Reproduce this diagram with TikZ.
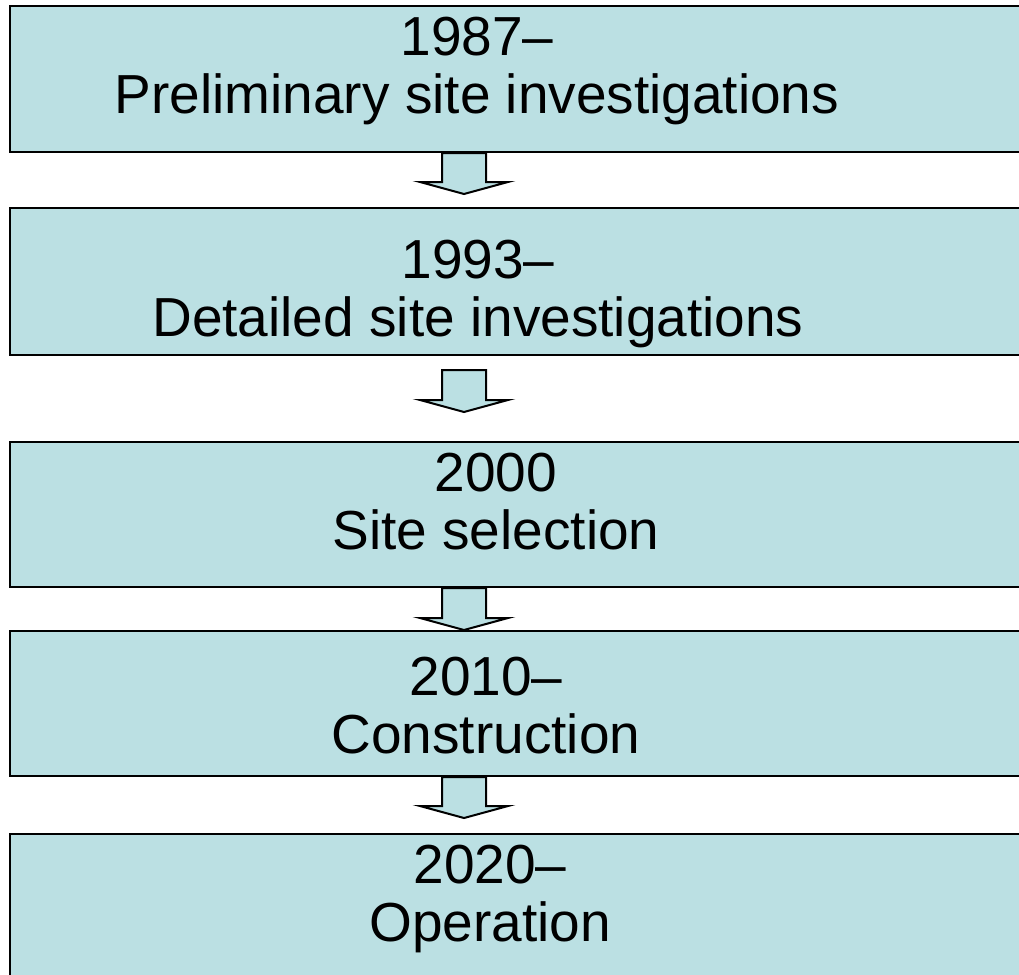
\documentclass[tikz,border=0pt]{standalone}
\usepackage{fontspec}
\setmainfont{Liberation Sans}
\usepackage{tikz}
\usetikzlibrary{calc}
\definecolor{boxblue}{RGB}{187,224,227}

\tikzset{
  stage/.style={draw=black,line width=2pt,fill=boxblue,rectangle,minimum width=1030pt,inner sep=0pt},
  stagetext/.style={anchor=north,inner sep=0pt,align=center,font=\fontsize{55}{58}\selectfont},
  blockarrow/.style={draw=black,line width=2pt,fill=boxblue,line join=miter,
    to path={let \p1=(\tikztostart),\p2=(\tikztotarget) in
      (\x1-22pt,\y1)--(\x1-22pt,\y2+12pt)--(\x1-44pt,\y2+12pt)--(\x1,\y2)
      --(\x1+44pt,\y2+12pt)--(\x1+22pt,\y2+12pt)--(\x1+22pt,\y1)--cycle}}
}

\begin{document}
\begin{tikzpicture}[x=1pt,y=-1pt]
\useasboundingbox (0,0) rectangle (1019,974);
\clip (0,0) rectangle (1019,974);
% stages
\node[stage,minimum height=146pt] (b1) at (525,79) {};
\node[stage,minimum height=147pt] (b2) at (525,281.5) {};
\node[stage,minimum height=145pt] (b3) at (525,514.5) {};
\node[stage,minimum height=145pt] (b4) at (525,703.5) {};
\node[stage,minimum height=146pt] (b5) at (525,907) {};
\node[stagetext] (t1) at (477,17) {1987–\\Preliminary site investigations};
\node[stagetext] (t2) at (478,240) {1993–\\Detailed site investigations};
\node[stagetext] (t3) at (496,453) {2000\\Site selection};
\node[stagetext] (t4) at (486,657) {2010–\\Construction};
\node[stagetext] (t5) at (490,845) {2020–\\Operation};
% arrows
\coordinate (ax) at (464,0);
\draw[blockarrow] (b1.south -| ax) to ($(b2.north -| ax)+(0,-13)$);
\draw[blockarrow] ($(b2.south -| ax)+(0,14)$) to ($(b3.north -| ax)+(0,-29)$);
\draw[blockarrow] (b3.south -| ax) to (b4.north -| ax);
\draw[blockarrow] (b4.south -| ax) to ($(b5.north -| ax)+(0,-15)$);
\end{tikzpicture}
\end{document}
